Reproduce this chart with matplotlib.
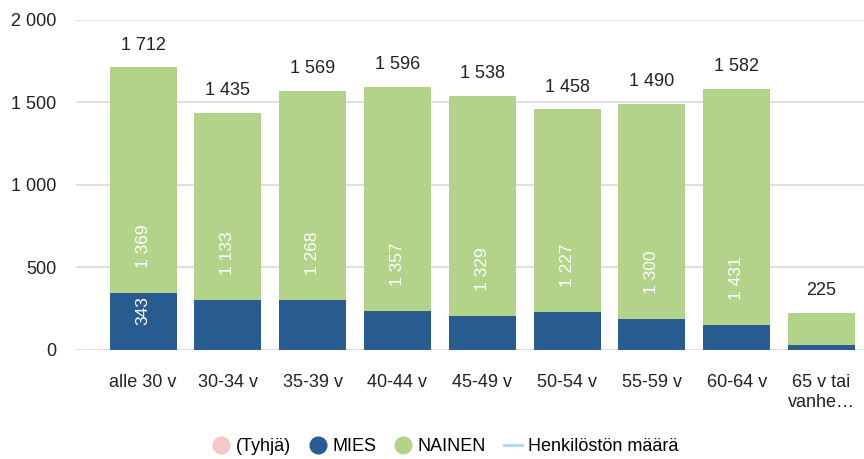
import matplotlib
matplotlib.use("Agg")
import matplotlib.pyplot as plt
from matplotlib.lines import Line2D
import numpy as np

plt.rcParams["font.family"] = ["Liberation Sans", "DejaVu Sans"]

# ---------------------------------------------------------------------------
# Data
# ---------------------------------------------------------------------------
groups = ["alle 30 v", "30-34 v", "35-39 v", "40-44 v", "45-49 v",
          "50-54 v", "55-59 v", "60-64 v", "65 v tai\nvanhe…"]
mies = [343, 302, 301, 239, 209, 231, 190, 151, 30]
nainen = [1369, 1133, 1268, 1357, 1329, 1227, 1300, 1431, 195]
totals = [1712, 1435, 1569, 1596, 1538, 1458, 1490, 1582, 225]

C_MIES = "#285C91"
C_NAINEN = "#B3D38A"
C_TYHJA = "#F7C7C7"
C_LINE = "#A8D8EE"
TXT = "#222222"
SHOW_MIN = 320  # inside labels only where the segment is tall enough


def fmt(v):
    return f"{v:,}".replace(",", " ")


fig = plt.figure(figsize=(8.64, 4.59), dpi=100)
ax = fig.add_axes([0.088, 0.2375, 0.912, 0.719])

x = np.arange(len(groups))
w = 0.79
ax.bar(x, mies, width=w, color=C_MIES, zorder=3)
ax.bar(x, nainen, width=w, bottom=mies, color=C_NAINEN, zorder=3)

# labels sit near the base of each segment, rotated
for xi, m, n, t in zip(x, mies, nainen, totals):
    if m >= SHOW_MIN:
        ax.annotate(fmt(m), (xi, 0), xytext=(0, 18), textcoords="offset points",
                    rotation=90, ha="center", va="bottom", color="white",
                    fontsize=12.5, zorder=4)
    if n >= SHOW_MIN:
        ax.annotate(fmt(n), (xi, m), xytext=(0, 18), textcoords="offset points",
                    rotation=90, ha="center", va="bottom", color="white",
                    fontsize=12.5, zorder=4)
    ax.annotate(fmt(t), (xi, t), xytext=(0, 10), textcoords="offset points",
                ha="center", va="bottom", color=TXT, fontsize=13, zorder=4)

ax.set_ylim(0, 2000)
ax.set_xlim(-0.79, 8.5)
ax.set_yticks([0, 500, 1000, 1500, 2000])
ax.set_yticklabels([fmt(v) for v in [0, 500, 1000, 1500, 2000]])
ax.set_xticks(x)
ax.set_xticklabels(groups, linespacing=1.25)
ax.tick_params(axis="both", length=0, labelsize=13, colors=TXT)
ax.tick_params(axis="x", pad=17)
ax.tick_params(axis="y", pad=14)
ax.grid(True, axis="y", color="#D9D9D9", lw=1.2, zorder=0)
for s in ax.spines.values():
    s.set_visible(False)

handles = [
    Line2D([0], [0], marker="o", color="none", markerfacecolor=C_TYHJA,
           markeredgecolor=C_TYHJA, markersize=12, label="(Tyhjä)"),
    Line2D([0], [0], marker="o", color="none", markerfacecolor=C_MIES,
           markeredgecolor=C_MIES, markersize=12, label="MIES"),
    Line2D([0], [0], marker="o", color="none", markerfacecolor=C_NAINEN,
           markeredgecolor=C_NAINEN, markersize=12, label="NAINEN"),
    Line2D([0], [0], color=C_LINE, lw=2, label="Henkilöstön määrä"),
]
fig.legend(handles=handles, loc="center", bbox_to_anchor=(0.515, 0.027),
           ncol=4, frameon=False, fontsize=13, handlelength=1.0,
           handletextpad=0.3, columnspacing=1.0)

fig.savefig("out.png", dpi=100)
